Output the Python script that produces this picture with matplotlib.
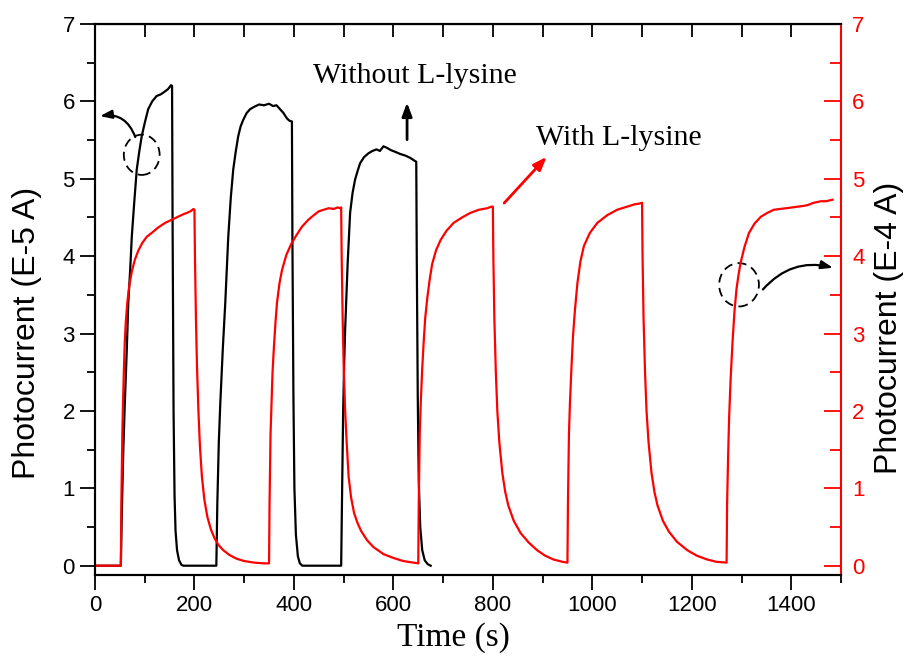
import matplotlib
matplotlib.use("Agg")
import matplotlib.pyplot as plt
from matplotlib.patches import Ellipse
from matplotlib.ticker import MultipleLocator

# photocurrent without L-lysine (left axis, E-5 A)
black_t = [0, 52, 54, 57, 60, 64, 67, 71, 74, 79, 84, 89, 94, 100, 107, 115, 124, 132, 141, 147, 153,
           155, 156, 158, 160, 162, 165, 169, 174, 178,
           244, 246, 249, 252, 257, 262, 268, 273, 278, 283, 288, 293, 298, 305, 312, 320, 330, 340, 350,
           358, 365, 372, 379, 386, 391, 396,
           397, 399, 401, 404, 408, 412, 417,
           495, 497, 499, 501, 503, 508, 513, 518, 523, 528, 533, 541, 550, 558, 566, 573, 580, 587, 595,
           603, 614, 624, 634, 641, 646,
           647, 649, 651, 654, 658, 663, 669, 675]
black_i = [0, 0, 0.7, 1.5, 2.1, 2.8, 3.4, 3.85, 4.25, 4.7, 5.12, 5.35, 5.55, 5.72, 5.9, 6.0, 6.07, 6.09, 6.13, 6.16, 6.21,
           6.2, 4.5, 2.0, 0.9, 0.45, 0.2, 0.07, 0.01, 0,
           0, 0.8, 1.6, 2.1, 2.8, 3.4, 4.25, 4.75, 5.12, 5.35, 5.55, 5.68, 5.76, 5.85, 5.9, 5.93, 5.96, 5.95, 5.97,
           5.94, 5.95, 5.9, 5.85, 5.78, 5.75, 5.74,
           4.2, 2.2, 1.0, 0.4, 0.12, 0.03, 0,
           0, 1.0, 2.0, 2.6, 3.05, 3.9, 4.56, 4.82, 4.99, 5.1, 5.2, 5.28, 5.33, 5.36, 5.38, 5.36, 5.42, 5.4, 5.37,
           5.35, 5.32, 5.3, 5.27, 5.24, 5.22,
           4.0, 2.2, 1.1, 0.5, 0.2, 0.07, 0.02, 0]

# photocurrent with L-lysine (right axis, E-4 A)
red_t = [0, 52, 53, 54, 55, 56, 58, 60, 62, 65, 69, 74, 80, 87, 95, 104, 114, 127, 141, 154, 167, 177, 185, 192, 198, 200,
         201, 203, 205, 208, 211, 215, 220, 226, 233, 240, 248, 258, 270, 285, 300, 320, 340, 350,
         351, 352, 353, 355, 357, 360, 363, 366, 371, 376, 385, 394, 403, 416, 429, 440, 450, 460, 470, 480, 488, 492, 495,
         496, 498, 500, 503, 506, 510, 515, 521, 528, 535, 547, 560, 580, 600, 620, 640, 650,
         651, 652, 653, 655, 658, 661, 664, 668, 673, 678, 686, 695, 707, 721, 738, 755, 772, 789, 797, 800,
         801, 803, 806, 809, 813, 819, 825, 831, 842, 856, 872, 889, 905, 922, 940, 950,
         951, 952, 953, 955, 958, 961, 965, 970, 976, 983, 995, 1010, 1030, 1050, 1070, 1085, 1095, 1100,
         1101, 1103, 1106, 1109, 1113, 1119, 1125, 1131, 1142, 1154, 1170, 1191, 1210, 1231, 1250, 1270,
         1271, 1273, 1275, 1278, 1282, 1286, 1290, 1294, 1298, 1306, 1315, 1326, 1339, 1352, 1365, 1390, 1413,
         1425, 1433, 1445, 1460, 1470, 1483]
red_i = [0, 0, 0.8, 1.3, 1.7, 2.0, 2.5, 2.9, 3.15, 3.4, 3.62, 3.8, 3.95, 4.07, 4.17, 4.25, 4.3, 4.37, 4.43, 4.47, 4.51, 4.54,
         4.56, 4.58, 4.61, 4.6,
         4.0, 3.2, 2.6, 2.0, 1.55, 1.15, 0.85, 0.63, 0.47, 0.36, 0.27, 0.2, 0.14, 0.09, 0.06, 0.04, 0.03, 0.03,
         0.8, 1.3, 1.7, 2.1, 2.5, 2.85, 3.15, 3.4, 3.65, 3.82, 4.02, 4.15, 4.25, 4.38, 4.47, 4.53, 4.58, 4.6, 4.62, 4.61,
         4.63, 4.62, 4.63,
         4.0, 3.2, 2.6, 2.0, 1.6, 1.15, 0.88, 0.68, 0.55, 0.45, 0.33, 0.24, 0.15, 0.1, 0.06, 0.04, 0.03,
         0.8, 1.3, 1.7, 2.1, 2.55, 2.9, 3.2, 3.45, 3.7, 3.9, 4.08, 4.21, 4.33, 4.43, 4.5, 4.56, 4.6, 4.62, 4.64, 4.64,
         4.0, 3.2, 2.5, 2.0, 1.6, 1.2, 0.95, 0.78, 0.58, 0.42, 0.3, 0.2, 0.13, 0.08, 0.05, 0.04,
         0.8, 1.3, 1.7, 2.1, 2.55, 2.95, 3.3, 3.65, 3.93, 4.13, 4.3, 4.43, 4.53, 4.6, 4.64, 4.67, 4.68, 4.69,
         4.0, 3.2, 2.5, 2.0, 1.6, 1.2, 0.95, 0.78, 0.58, 0.44, 0.31, 0.2, 0.13, 0.08, 0.05, 0.04,
         0.8, 1.4, 1.9, 2.4, 2.9, 3.3, 3.58, 3.76, 3.91, 4.12, 4.3, 4.42, 4.51, 4.56, 4.6, 4.62, 4.64,
         4.65, 4.66, 4.69, 4.71, 4.71, 4.73]

sans = "Liberation Sans"
serif = "Liberation Serif"

fig = plt.figure(figsize=(9.08, 6.60), dpi=100)
ax = fig.add_axes([0.1046, 0.1288, 0.8216, 0.8348])
ax2 = ax.twinx()

ax.plot(black_t, black_i, color="black", lw=1.6)
ax2.plot(red_t, red_i, color="red", lw=1.6)

for a in (ax, ax2):
    a.set_xlim(0, 1500)
    a.set_ylim(-0.12, 7)
    a.yaxis.set_major_locator(MultipleLocator(1))
    a.yaxis.set_minor_locator(MultipleLocator(0.5))

ax.xaxis.set_major_locator(MultipleLocator(200))
ax.xaxis.set_minor_locator(MultipleLocator(100))
ax.tick_params(axis="both", which="major", direction="out", length=11, width=1.3, labelsize=16)
ax.tick_params(axis="both", which="minor", direction="out", length=6, width=1.3)
for lab in ax.get_xticklabels() + ax.get_yticklabels():
    lab.set_fontfamily(sans)

top = ax.secondary_xaxis("top")
top.xaxis.set_major_locator(MultipleLocator(100))
top.tick_params(direction="in", length=9, width=1.3, labeltop=False)

ax2.tick_params(axis="y", which="major", direction="in", length=12, width=1.3,
                colors="red", labelsize=16, pad=8)
ax2.tick_params(axis="y", which="minor", direction="in", length=8, width=1.3, colors="red")
for lab in ax2.get_yticklabels():
    lab.set_fontfamily(sans)
ax2.spines["right"].set_color("red")
for s in ("left", "bottom", "top"):
    ax.spines[s].set_linewidth(1.5)
    ax2.spines[s].set_linewidth(1.5)
ax2.spines["right"].set_linewidth(1.5)
ax.spines["right"].set_visible(False)

fig.text(27 / 908, 1 - 333 / 660, "Photocurrent (E-5 A)", rotation=90, ha="center", va="center",
         fontsize=23, family=sans)
fig.text(889 / 908, 1 - 328 / 660, "Photocurrent (E-4 A)", rotation=90, ha="center", va="center",
         fontsize=23, family=sans)
fig.text(453 / 908, 1 - 638 / 660, "Time (s)", ha="center", va="center", fontsize=24, family=serif)

# annotations
ax.text(439, 6.24, "Without L-lysine", fontsize=21.5, family=serif, ha="left", va="baseline")
ax.text(886, 5.44, "With L-lysine", fontsize=21.5, family=serif, ha="left", va="baseline")

ax.annotate("", xy=(627.5, 6.02), xytext=(627.5, 5.47),
            arrowprops=dict(arrowstyle="-|>,head_length=0.8,head_width=0.3", color="black", lw=2))
ax.annotate("", xy=(912, 5.31), xytext=(819, 4.66),
            arrowprops=dict(arrowstyle="-|>,head_length=0.8,head_width=0.3", color="red", lw=2))

ax.add_patch(Ellipse((94, 5.31), 72, 0.52, fill=False, ls=(0, (5, 3)), lw=1.3, ec="black"))
ax.add_patch(Ellipse((1295, 3.63), 80, 0.56, fill=False, ls=(0, (5, 3)), lw=1.3, ec="black"))

ax.annotate("", xy=(10, 5.81), xytext=(81, 5.54),
            arrowprops=dict(arrowstyle="-|>,head_length=0.7,head_width=0.25", color="black", lw=1.6,
                            connectionstyle="arc3,rad=0.4", shrinkA=0, shrinkB=0))
ax.annotate("", xy=(1484, 3.85), xytext=(1343, 3.57),
            arrowprops=dict(arrowstyle="-|>,head_length=0.7,head_width=0.25", color="black", lw=1.6,
                            connectionstyle="arc3,rad=-0.3", shrinkA=0, shrinkB=0))

fig.savefig("out.png", dpi=100)
